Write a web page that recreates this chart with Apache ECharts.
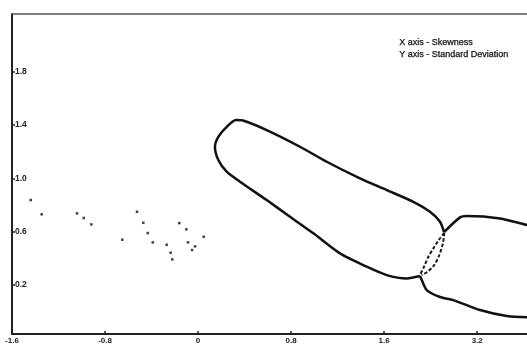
<!DOCTYPE html>
<html><head><meta charset="utf-8">
<script src="https://cdn.jsdelivr.net/npm/echarts@6/dist/echarts.min.js"></script>
<style>html,body{margin:0;padding:0;background:#fff}#c{width:527px;height:347px}</style>
</head><body><div id="c"></div>
<script>
// ---- data ----
const xTickValues = [-1.6, -0.8, 0, 0.8, 1.6, 2.4];
const xTickLabels = ['-1.6', '-0.8', '0', '0.8', '1.6', '3.2'];
const yTickValues = [0.2, 0.6, 1.0, 1.4, 1.8];
const yTickLabels = ['0.2', '0.6', '1.0', '1.4', '1.8'];

const sampleSkew = [-1.439,-1.345,-1.041,-0.983,-0.918,-0.652,-0.525,-0.471,-0.433,-0.390,-0.270,-0.236,-0.222,-0.162,-0.101,-0.087,-0.026,-0.052,0.048];
const sampleStd  = [0.836,0.729,0.736,0.701,0.653,0.538,0.748,0.665,0.588,0.518,0.500,0.440,0.390,0.663,0.616,0.518,0.488,0.460,0.560];

// region 1 outline (solid part)
const region1 = [[1.908,0.265],[1.794,0.247],[1.622,0.272],[1.450,0.335],[1.220,0.435],[0.991,0.586],[0.790,0.711],[0.590,0.836],[0.360,0.974],[0.246,1.049],[0.174,1.137],[0.145,1.237],[0.174,1.312],[0.246,1.387],[0.326,1.438],[0.386,1.434],[0.590,1.362],[0.876,1.237],[1.106,1.124],[1.392,0.999],[1.622,0.911],[1.851,0.823],[1.994,0.748],[2.080,0.673],[2.115,0.595]];
// region 2 outline, upper and lower edges
const region2Upper = [[2.115,0.595],[2.252,0.706],[2.310,0.716],[2.596,0.698],[2.828,0.648],[2.983,0.618]];
const region2Lower = [[1.908,0.265],[1.923,0.235],[1.966,0.159],[2.080,0.107],[2.195,0.084],[2.424,0.009],[2.654,-0.036],[2.828,-0.046],[2.983,-0.047]];
// overlap boundary (dashed)
const overlapLeft  = [[2.117,0.590],[2.069,0.535],[2.023,0.473],[1.980,0.410],[1.943,0.335],[1.908,0.273]];
const overlapRight = [[2.117,0.590],[2.105,0.511],[2.074,0.423],[2.030,0.347],[1.970,0.295],[1.923,0.272]];

const legendLines = ['X axis - Skewness', 'Y axis - Standard Deviation'];

// ---- chart ----
const chart = echarts.init(document.getElementById('c'), null, {renderer: 'canvas'});
const font = 'Liberation Sans, Arial, sans-serif';
const solid = {color: '#111', width: 2.5};
const dashed = {color: '#1a1a1a', width: 2, type: [3.5, 2]};
function lineSeries(data, style, smooth) {
  return {type: 'line', data: data, showSymbol: false, symbol: 'none', smooth: smooth,
          lineStyle: style, clip: true, silent: true, z: 3};
}
chart.setOption({
  animation: false,
  backgroundColor: '#fff',
  grid: {left: 12, right: 0, top: 14, bottom: 13},
  xAxis: [{
    type: 'value', min: -1.6, max: 2.828, position: 'bottom',
    axisLine: {show: true, onZero: false, lineStyle: {color: '#222', width: 2}},
    axisTick: {show: true, inside: true, length: 3, customValues: xTickValues, lineStyle: {color: '#222', width: 1.5}},
    axisLabel: {show: true, customValues: xTickValues, margin: 3, fontSize: 8, fontFamily: font, color: '#222', fontWeight: 'bold',
      formatter: v => { const i = xTickValues.findIndex(t => Math.abs(t - v) < 1e-6); return i >= 0 ? xTickLabels[i] : ''; }},
    splitLine: {show: false}
  }, {
    type: 'value', min: -1.6, max: 2.828, position: 'top',
    axisLine: {show: true, onZero: false, lineStyle: {color: '#555', width: 1.5}},
    axisTick: {show: false}, axisLabel: {show: false}, splitLine: {show: false}
  }],
  yAxis: {
    type: 'value', min: -0.171, max: 2.235,
    axisLine: {show: true, onZero: false, lineStyle: {color: '#222', width: 2}},
    axisTick: {show: true, inside: true, length: 3, customValues: yTickValues, lineStyle: {color: '#222', width: 1.5}},
    axisLabel: {show: true, inside: true, customValues: yTickValues, margin: 3, fontSize: 8.5, fontFamily: font, color: '#222', fontWeight: 'bold',
      formatter: v => { const i = yTickValues.findIndex(t => Math.abs(t - v) < 1e-6); return i >= 0 ? yTickLabels[i] : ''; }},
    splitLine: {show: false}
  },
  graphic: [{
    type: 'text', left: 399, top: 37,
    style: {text: legendLines.join('\n'), font: '9px Liberation Sans, Arial, sans-serif', fill: '#111',
            stroke: '#111', lineWidth: 0.25, lineHeight: 11.6}
  }],
  series: [
    {type: 'scatter', data: sampleSkew.map((x, i) => [x, sampleStd[i]]), symbol: 'rect', symbolSize: 2.5,
     itemStyle: {color: '#111'}, silent: true, z: 4},
    lineSeries(region1, solid, 0.25),
    lineSeries(region2Upper, solid, 0.25),
    lineSeries(region2Lower, solid, 0.25),
    lineSeries(overlapLeft, dashed, 0.3),
    lineSeries(overlapRight, dashed, 0.3)
  ]
});
</script></body></html>
